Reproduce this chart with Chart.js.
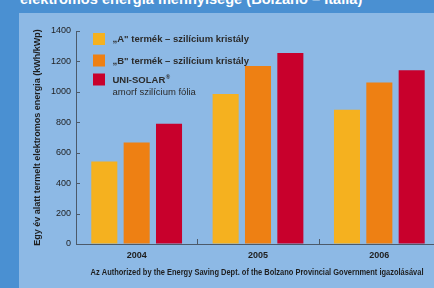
<!DOCTYPE html>
<html><head><meta charset="utf-8">
<script src="https://cdn.jsdelivr.net/npm/chart.js@4.4.0/dist/chart.umd.min.js"></script>
<style>
html,body{margin:0;padding:0;width:434px;height:288px;overflow:hidden;background:#4a90d2;}
#panel{position:absolute;left:19px;top:13px;width:460px;height:300px;background:#8db9e5;}
#title{position:absolute;left:20px;top:-8px;font:bold 14.6px "Liberation Sans",Arial,sans-serif;line-height:15px;color:#fff;white-space:nowrap;}
#c{position:absolute;left:0;top:0;}
</style></head><body>
<div id="panel"></div>
<div id="title">elektromos energia mennyisége (Bolzano – Itália)</div>
<canvas id="c" width="441" height="288"></canvas>
<script>
const categories = ['2004', '2005', '2006'];
const seriesLabels = [
  ['„A" termék – szilícium kristály'],
  ['„B" termék – szilícium kristály'],
  ['UNI-SOLAR®', 'amorf szilícium fólia']
];
const seriesA = [542, 986, 883];
const seriesB = [667, 1170, 1061];
const seriesC = [790, 1256, 1142];
const yTickValues = [0, 200, 400, 600, 800, 1000, 1200, 1400];
const yTitle = 'Egy év alatt termelt elektromos energia (kWh/kWp)';
const footer = 'Az Authorized by the Energy Saving Dept. of the Bolzano Provincial Government igazolásával';

const colors = ['#f5b11f', '#ee8013', '#c8002c'];
const SANS = '"Liberation Sans", Arial, sans-serif';
const axisColor = '#4c5a6a';
const textColor = '#1e1e1e';

const innerTicks = {
  id: 'innerTicks',
  afterDraw(chart) {
    const ctx = chart.ctx, ca = chart.chartArea;
    const y = chart.scales.y, x = chart.scales.x;
    ctx.save();
    ctx.strokeStyle = axisColor;
    ctx.lineWidth = 1;
    ctx.beginPath();
    y.ticks.forEach(t => {
      const py = Math.round(y.getPixelForValue(t.value)) + 0.5;
      ctx.moveTo(ca.left, py); ctx.lineTo(ca.left + 4, py);
    });
    for (let i = 0; i < categories.length - 1; i++) {
      const px = Math.round((x.getPixelForValue(i) + x.getPixelForValue(i + 1)) / 2) + 0.5;
      ctx.moveTo(px, ca.bottom); ctx.lineTo(px, ca.bottom - 5);
    }
    ctx.stroke();
    ctx.restore();
  }
};

const footerText = {
  id: 'footerText',
  afterDraw(chart) {
    const ctx = chart.ctx, ca = chart.chartArea;
    ctx.save();
    ctx.font = 'bold 8.5px ' + SANS;
    ctx.fillStyle = textColor;
    ctx.textBaseline = 'middle';
    ctx.textAlign = 'center';
    const w = ctx.measureText(footer).width;
    const sx = Math.min(1, 333 / w);
    const cx = (ca.left + ca.right) / 2 - 1;
    ctx.translate(cx, ca.bottom + 29);
    ctx.scale(sx, 1);
    ctx.fillText(footer, 0, 0);
    ctx.restore();
  }
};

const innerLegend = {
  id: 'innerLegend',
  afterDraw(chart) {
    const ctx = chart.ctx, ca = chart.chartArea;
    const boxTops = [2, 23.5, 42.5];
    ctx.save();
    chart.data.datasets.forEach((ds, i) => {
      const bx = ca.left + 17, by = ca.top + boxTops[i];
      ctx.fillStyle = ds.backgroundColor;
      ctx.fillRect(bx, by, 12, 12);
      ctx.fillStyle = '#2b2b2b';
      ctx.textBaseline = 'middle';
      const lines = ds.label;
      lines.forEach((ln, j) => {
        const ty = by + 6.5 + j * 12;
        const tx = bx + 19.5;
        ctx.font = (j === 0 ? 'bold ' : '') + '9.5px ' + SANS;
        if (ln.endsWith('®')) {
          const base = ln.slice(0, -1);
          ctx.fillText(base, tx, ty);
          const w = ctx.measureText(base).width;
          ctx.font = 'bold 6px ' + SANS;
          ctx.fillText('®', tx + w + 0.5, ty - 3);
        } else {
          ctx.fillText(ln, tx, ty);
        }
      });
    });
    ctx.restore();
  }
};

new Chart(document.getElementById('c'), {
  type: 'bar',
  data: {
    labels: categories,
    datasets: [
      { label: seriesLabels[0], data: seriesA, backgroundColor: colors[0] },
      { label: seriesLabels[1], data: seriesB, backgroundColor: colors[1] },
      { label: seriesLabels[2], data: seriesC, backgroundColor: colors[2] }
    ]
  },
  options: {
    responsive: false,
    animation: false,
    devicePixelRatio: 1,
    categoryPercentage: 0.8,
    barPercentage: 0.805,
    layout: { padding: { top: 31, right: 1, left: 0, bottom: 0 } },
    plugins: { legend: { display: false }, tooltip: { enabled: false } },
    scales: {
      x: {
        grid: { display: true, drawOnChartArea: false, drawTicks: false, color: 'rgba(0,0,0,0)' },
        border: { display: true, color: axisColor, width: 1 },
        ticks: { color: textColor, font: { family: SANS, size: 9, weight: 'bold' }, padding: 6 },
        afterFit(s) { s.height = 44; }
      },
      y: {
        min: 0, max: 1400,
        afterBuildTicks(s) { s.ticks = yTickValues.map(v => ({ value: v })); },
        grid: { display: true, drawOnChartArea: false, drawTicks: false, color: 'rgba(0,0,0,0)' },
        border: { display: true, color: axisColor, width: 1 },
        ticks: { color: textColor, font: { family: SANS, size: 9 }, padding: 5, callback: v => String(v) },
        title: { display: true, text: yTitle, color: textColor, font: { family: SANS, size: 9, weight: 'bold' }, padding: { top: 32, bottom: 0 } },
        afterFit(s) { s.width = 76; }
      }
    }
  },
  plugins: [innerTicks, footerText, innerLegend]
});
</script>
</body></html>
